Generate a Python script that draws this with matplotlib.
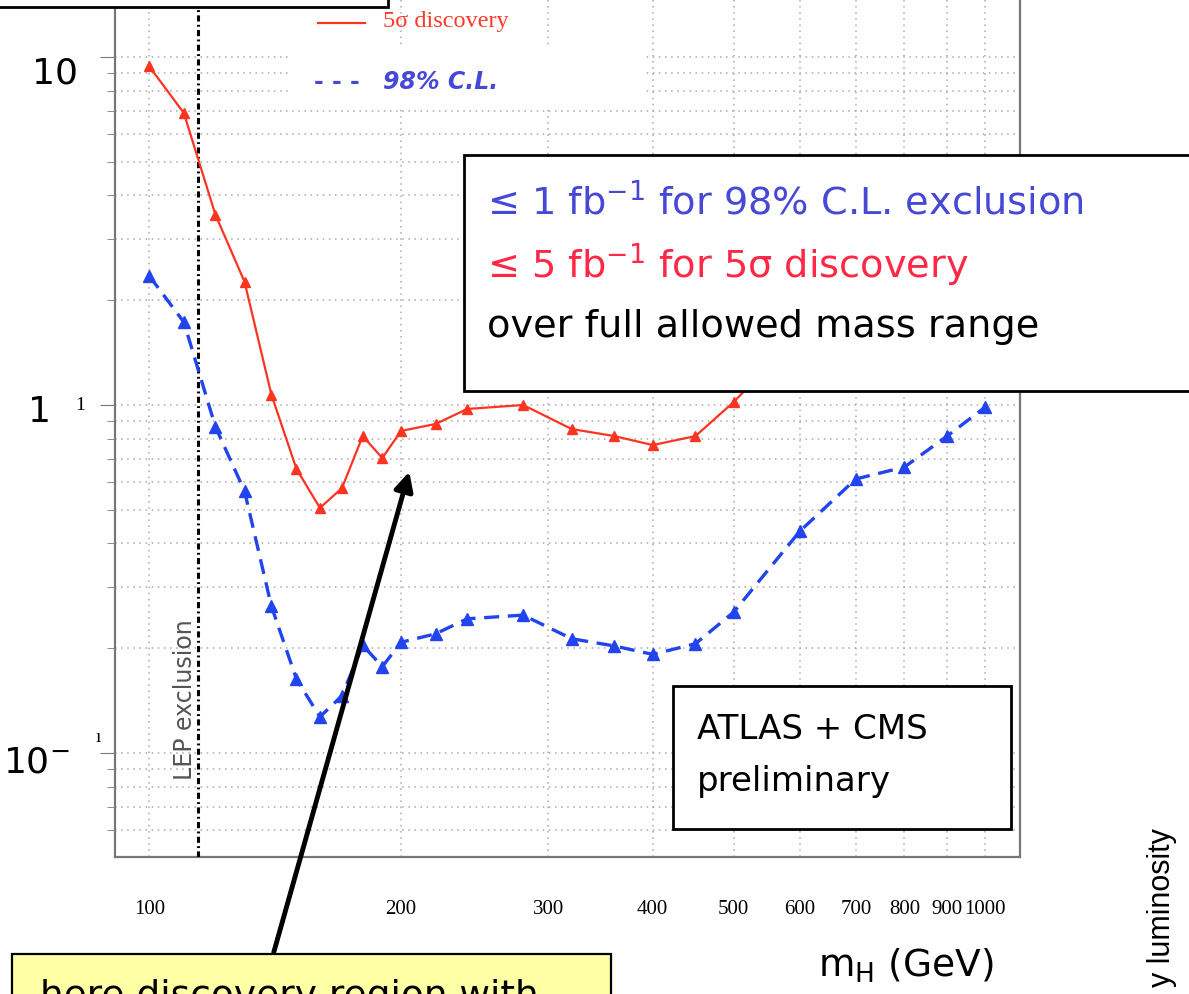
import matplotlib.pyplot as plt
import matplotlib.patches as mpatches
from matplotlib.ticker import LogLocator, NullLocator, NullFormatter

# Data (luminosity in fb^-1 vs Higgs mass in GeV)
mass = [100, 110, 120, 130, 140, 150, 160, 170, 180, 190, 200, 220, 240,
        280, 320, 360, 400, 450, 500, 600, 700, 800, 900, 1000]
lumi_5sigma = [9.4, 6.9, 3.52, 2.26, 1.07, 0.655, 0.506, 0.577, 0.814, 0.704,
               0.842, 0.882, 0.974, 1.0, 0.853, 0.814, 0.767, 0.814, 1.02,
               1.6, 2.2, 2.8, 3.4, 4.0]
lumi_98cl = [2.35, 1.73, 0.865, 0.566, 0.264, 0.163, 0.127, 0.146, 0.204, 0.177,
             0.208, 0.220, 0.243, 0.249, 0.213, 0.203, 0.192, 0.206, 0.254,
             0.434, 0.613, 0.663, 0.814, 0.987]
xticks = [100, 200, 300, 400, 500, 600, 700, 800, 900, 1000]
lep_limit = 114.4

W, H = 1189, 995

def fx(x):
    return x / W

def fy(y):
    return 1 - y / H

red = '#ff3322'
blue = '#2244ee'
txt_blue = '#4848d6'
txt_red = '#ff2846'
comic = 'DejaVu Sans'

fig = plt.figure(figsize=(W / 100, H / 100), dpi=100)
ax = fig.add_axes([fx(115), fy(858), fx(1020) - fx(115), fy(-40) - fy(858)])
ax.set_xscale('log')
ax.set_yscale('log')
ax.set_xlim(91, 1100)
ax.set_ylim(10 ** -1.2989, 10 ** 1.2816)

## Curves ##
ax.plot(mass, lumi_5sigma, color=red, lw=1.6, marker='^', ms=7, zorder=4)
ax.plot(mass, lumi_98cl, color=blue, lw=2.4, linestyle=(0, (4.5, 2.6)),
        marker='^', ms=8, zorder=4)
ax.axvline(lep_limit, color='k', lw=2.2, linestyle=(0, (2, 1.1, 0.6, 1.1)), zorder=3)
ax.text(lep_limit * 0.965, 10 ** ((406 - 700) / 348.0), 'LEP exclusion',
        rotation=90, ha='center', va='center', color='#555555', fontsize=17)

# Format
ax.set_xticks(xticks)
ax.set_xticklabels([str(v) for v in xticks], fontfamily='Liberation Serif',
                   fontsize=15)
ax.xaxis.set_minor_locator(NullLocator())
ax.tick_params(axis='x', length=0, pad=30)
ax.yaxis.set_major_locator(LogLocator(base=10))
ax.yaxis.set_minor_locator(LogLocator(base=10, subs=range(2, 10)))
ax.yaxis.set_minor_formatter(NullFormatter())
ax.tick_params(axis='y', which='major', length=11, color='#777777', labelleft=False)
ax.tick_params(axis='y', which='minor', length=6, color='#777777')
ax.grid(True, axis='x', which='major', color='#aaaaaa', linestyle=(0, (1, 3)), lw=1.1)
ax.grid(True, axis='y', which='both', color='#aaaaaa', linestyle=(0, (1, 3)), lw=1.1)
for side in ['left', 'bottom', 'right']:
    ax.spines[side].set_color('#777777')
    ax.spines[side].set_linewidth(1.6)
ax.spines['top'].set_visible(False)

## Overlays (slide annotations) ##
def box(x0, y0, x1, y1, fc='white', ec='black', lw=2.0, z=2):
    fig.add_artist(mpatches.Rectangle((fx(x0), fy(y1)), fx(x1) - fx(x0), fy(y0) - fy(y1),
                                      transform=fig.transFigure, facecolor=fc,
                                      edgecolor=ec, lw=lw, zorder=z))

def label(x, y, s, **kw):
    fig.text(fx(x), fy(y), s, zorder=5, **kw)

# top-left box (cut off)
box(-10, -20, 388, 8)

# legend
box(290, 48, 645, 108, ec='none', lw=0, z=1)
fig.add_artist(plt.Line2D([fx(318), fx(365)], [fy(24), fy(24)], color=red, lw=1.6,
                          transform=fig.transFigure, zorder=5))
label(383, 22, '5σ discovery', color='#ff3a2a', fontfamily='Liberation Serif',
      fontsize=17.5, va='center')
label(314, 82, '- - -', color=txt_blue, fontfamily=comic, fontsize=17,
      fontweight='bold', va='center')
label(383, 82, '98% C.L.', color=txt_blue, fontfamily=comic, fontsize=17,
      fontweight='bold', style='italic', va='center')

# big y labels
label(55, 74, '10', fontfamily=comic, fontsize=26, ha='center', va='center')
label(40, 412, '1', fontfamily=comic, fontsize=26, ha='center', va='center')
label(36, 763, '10$^{-}$', fontfamily=comic, fontsize=26, ha='center', va='center')
label(80, 406, '1', fontfamily='Liberation Serif', fontsize=14, ha='center', va='center')
label(98, 737, 'ı', fontfamily='Liberation Serif', fontsize=14, ha='center', va='center')

# summary box
box(464, 156, 1200, 392)
label(487, 203, '≤ 1 fb$^{-1}$ for 98% C.L. exclusion', color=txt_blue,
      fontfamily=comic, fontsize=27.5, va='center')
label(487, 265, '≤ 5 fb$^{-1}$ for 5σ discovery', color=txt_red,
      fontfamily=comic, fontsize=27.5, va='center')
label(487, 327, 'over full allowed mass range', color='black',
      fontfamily=comic, fontsize=27.5, va='center')

# ATLAS + CMS box
box(673, 687, 1011, 830)
label(697, 730, 'ATLAS + CMS', fontfamily=comic, fontsize=24.5, va='center')
label(697, 782, 'preliminary', fontfamily=comic, fontsize=24.5, va='center')

# x label
label(906, 966, 'm$_\\mathregular{H}$ (GeV)', fontfamily=comic, fontsize=27,
      ha='center', va='center')

# right-hand rotated axis title (cut off on the slide)
label(1162, 828, 'y luminosity', fontfamily='Liberation Sans', fontsize=22,
      rotation=90, ha='center', va='top')

# yellow call-out box and arrow
box(12, 955, 611, 1020, fc='#ffffa6', lw=1.6)
label(40, 1007, 'here discovery region with', fontfamily=comic, fontsize=27,
      va='baseline')
fig.add_artist(mpatches.FancyArrowPatch((fx(273), fy(956)), (fx(410), fy(470)),
                                        transform=fig.transFigure, arrowstyle='-|>',
                                        mutation_scale=28, lw=3.5, color='black',
                                        zorder=6))

fig.savefig('out.png', dpi=100)
